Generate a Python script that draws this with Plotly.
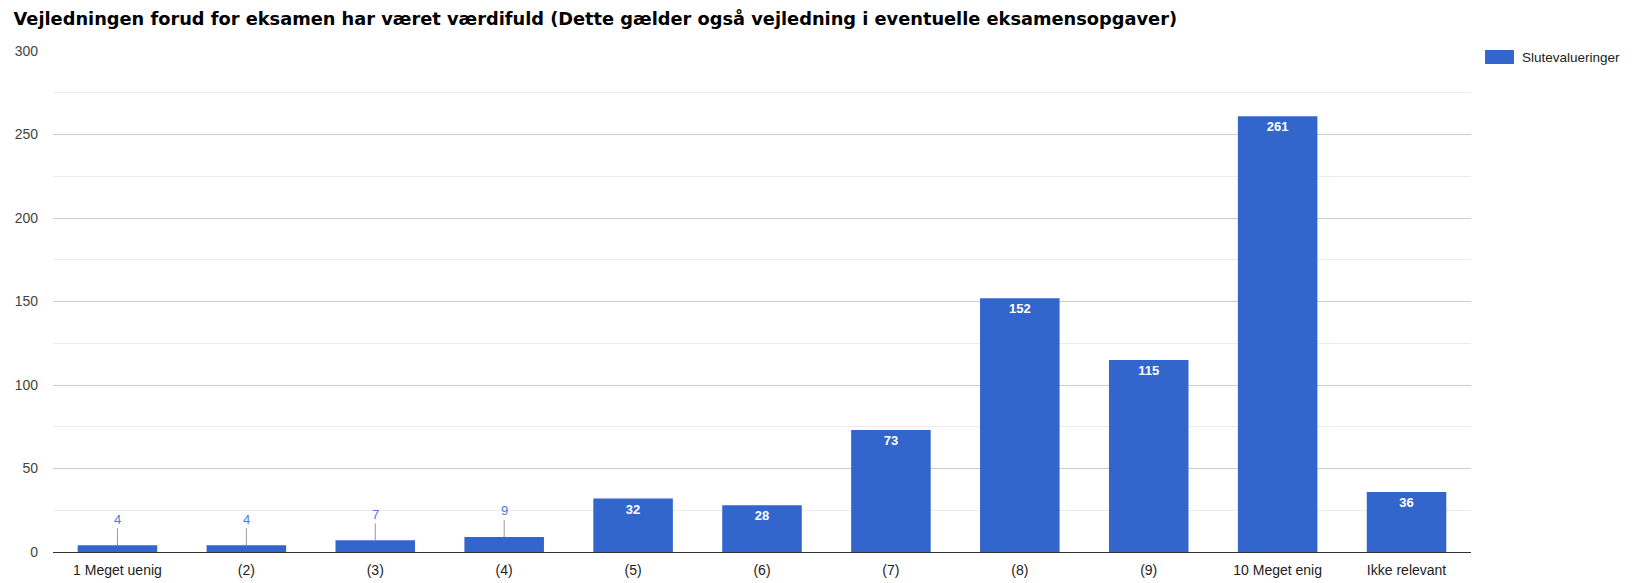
import plotly.graph_objects as go

categories = ["1 Meget uenig", "(2)", "(3)", "(4)", "(5)", "(6)", "(7)", "(8)", "(9)",
              "10 Meget enig", "Ikke relevant"]
values = [4, 4, 7, 9, 32, 28, 73, 152, 115, 261, 36]
series_name = "Slutevalueringer"
title = "Vejledningen forud for eksamen har været værdifuld (Dette gælder også vejledning i eventuelle eksamensopgaver)"

BLUE = "#3366cc"
FONT = "Liberation Sans, Arial"
small = 20  # below this the label goes above the bar

inside_text = [str(v) if v >= small else "" for v in values]

fig = go.Figure()
fig.add_trace(go.Bar(
    x=categories, y=values, name=series_name,
    marker=dict(color=BLUE, line=dict(width=0)),
    text=inside_text, textposition="inside", insidetextanchor="end",
    textangle=0,
    textfont=dict(family=FONT, size=13, color="white", weight="bold"),
    showlegend=False,
))

# small values: label above bar with a leader line
for c, v in zip(categories, values):
    if v < small:
        fig.add_annotation(
            x=c, y=v, xref="x", yref="y", text=str(v),
            showarrow=True, arrowhead=0, arrowwidth=1, arrowcolor="#999999",
            ax=0, ay=-26, standoff=0,
            font=dict(family=FONT, size=13, color="#4a7bdc"),
        )

# legend drawn by hand (wide swatch like the original)
fig.add_shape(type="rect", xref="paper", yref="paper",
              x0=1.0099, x1=1.0303, y0=1.002, y1=0.974,
              fillcolor=BLUE, line=dict(width=0))
fig.add_annotation(xref="paper", yref="paper", x=1.0345, y=0.988,
                   text=series_name, showarrow=False, xanchor="left", yanchor="middle",
                   font=dict(family=FONT, size=13.5, color="#222222"))

fig.update_layout(
    width=1637, height=583,
    margin=dict(l=53, r=166, t=51, b=31),
    paper_bgcolor="white", plot_bgcolor="white",
    bargap=0.383,
    title=dict(text=title, x=0.0083, xanchor="left", y=0.9674, yanchor="middle",
               font=dict(family="DejaVu Sans", size=17.8, color="#000000", weight="bold")),
    font=dict(family=FONT, size=14, color="#222222"),
)
fig.update_yaxes(
    range=[0, 300], dtick=50, tick0=0,
    showgrid=True, gridcolor="#cccccc", gridwidth=1,
    minor=dict(dtick=25, showgrid=True, gridcolor="#ebebeb"),
    zeroline=True, zerolinecolor="#333333", zerolinewidth=1,
    ticks="", ticklabelstandoff=14, automargin=False,
    tickfont=dict(size=14, color="#444444"),
    showline=False, fixedrange=True,
)
fig.update_xaxes(
    showgrid=False, showline=True, linecolor="#333333",
    ticks="", ticklabelstandoff=5, automargin=False,
    tickfont=dict(size=14, color="#222222"),
)

# drop the default 8px body margin so the figure fills the window
fig.write_html("out.html", config={"displayModeBar": False},
               post_script="document.body.style.margin='0';")
